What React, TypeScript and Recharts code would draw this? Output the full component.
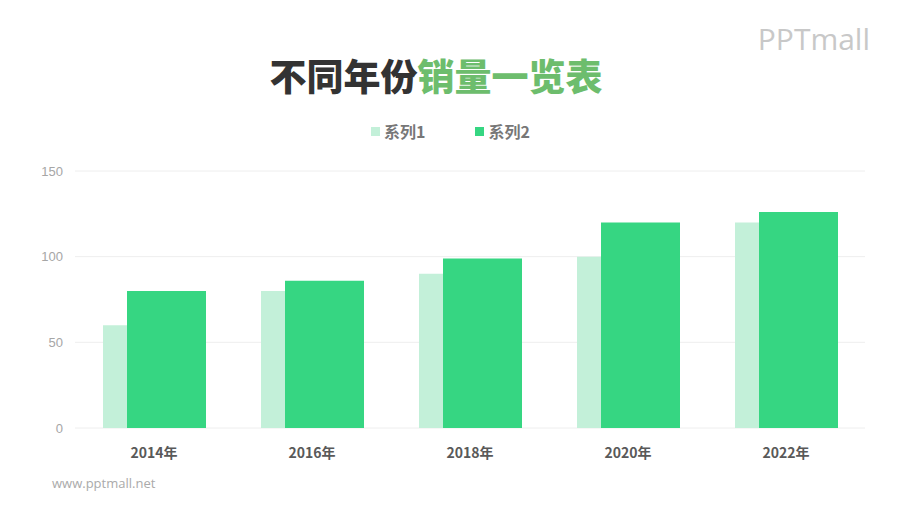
import { BarChart, Bar, XAxis, YAxis, CartesianGrid } from 'recharts';

const categories = ['2014年', '2016年', '2018年', '2020年', '2022年'];
const series1 = [60, 80, 90, 100, 120];
const series2 = [80, 86, 99, 120, 126];
const yTicks = [0, 50, 100, 150];

const data = categories.map((name, i) => ({ name, s1: series1[i], s2: series2[i] }));

const FONT = '"Noto Sans CJK SC", "Noto Sans", sans-serif';
const LIGHT = '#c3f0d9';
const GREEN = '#36d682';

export default function App() {
  return (
    <div
      style={{
        position: 'absolute',
        left: 0,
        top: 0,
        width: 900,
        height: 506,
        background: '#fff',
        fontFamily: FONT,
        overflow: 'hidden',
      }}
    >
      {/* 标题 */}
      <div
        style={{
          position: 'absolute',
          left: 0,
          width: 872,
          top: 50,
          textAlign: 'center',
          fontSize: 37,
          fontWeight: 900,
          lineHeight: '50px',
        }}
      >
        <span style={{ color: '#333333' }}>不同年份</span>
        <span style={{ color: '#6dbd6d' }}>销量一览表</span>
      </div>

      {/* 图例 */}
      <div
        style={{
          position: 'absolute',
          top: 119,
          left: 371,
          display: 'flex',
          gap: 50,
          fontSize: 16,
          fontWeight: 700,
          color: '#777',
          lineHeight: '24px',
        }}
      >
        <div style={{ display: 'flex', alignItems: 'center', gap: 4 }}>
          <div style={{ width: 9, height: 9, backgroundColor: LIGHT }} />
          <span>系列1</span>
        </div>
        <div style={{ display: 'flex', alignItems: 'center', gap: 4 }}>
          <div style={{ width: 9, height: 9, backgroundColor: GREEN }} />
          <span>系列2</span>
        </div>
      </div>

      {/* logo */}
      <div
        style={{
          position: 'absolute',
          top: 18,
          right: 30,
          fontFamily: '"Open Sans", sans-serif',
          fontSize: 30,
          fontWeight: 400,
          color: '#c8c8c8',
        }}
      >
        PPTmall
      </div>

      <div style={{ position: 'absolute', top: 0, left: 0 }}>
        <BarChart
          width={900}
          height={506}
          data={data}
          margin={{ top: 171, right: 35, bottom: 48, left: 35 }}
          barSize={79}
          barGap={-55}
        >
          <CartesianGrid vertical={false} stroke="#eeeeee" />
          <XAxis
            dataKey="name"
            axisLine={false}
            tickLine={false}
            height={30}
            tick={{ fontSize: 14, fontWeight: 700, fill: '#595959', fontFamily: FONT }}
            tickMargin={14}
          />
          <YAxis
            domain={[0, 150]}
            ticks={yTicks}
            axisLine={false}
            tickLine={false}
            width={40}
            tick={{ fontSize: 13, fill: '#a6a6a6', fontFamily: '"Liberation Sans", sans-serif', dx: -4 }}
          />
          <Bar dataKey="s1" fill={LIGHT} isAnimationActive={false} />
          <Bar dataKey="s2" fill={GREEN} isAnimationActive={false} />
        </BarChart>
      </div>

      {/* 网址 */}
      <div
        style={{
          position: 'absolute',
          left: 52,
          top: 474,
          fontSize: 13,
          color: '#aaaaaa',
          fontFamily: '"Open Sans", sans-serif',
        }}
      >
        www.pptmall.net
      </div>
    </div>
  );
}
